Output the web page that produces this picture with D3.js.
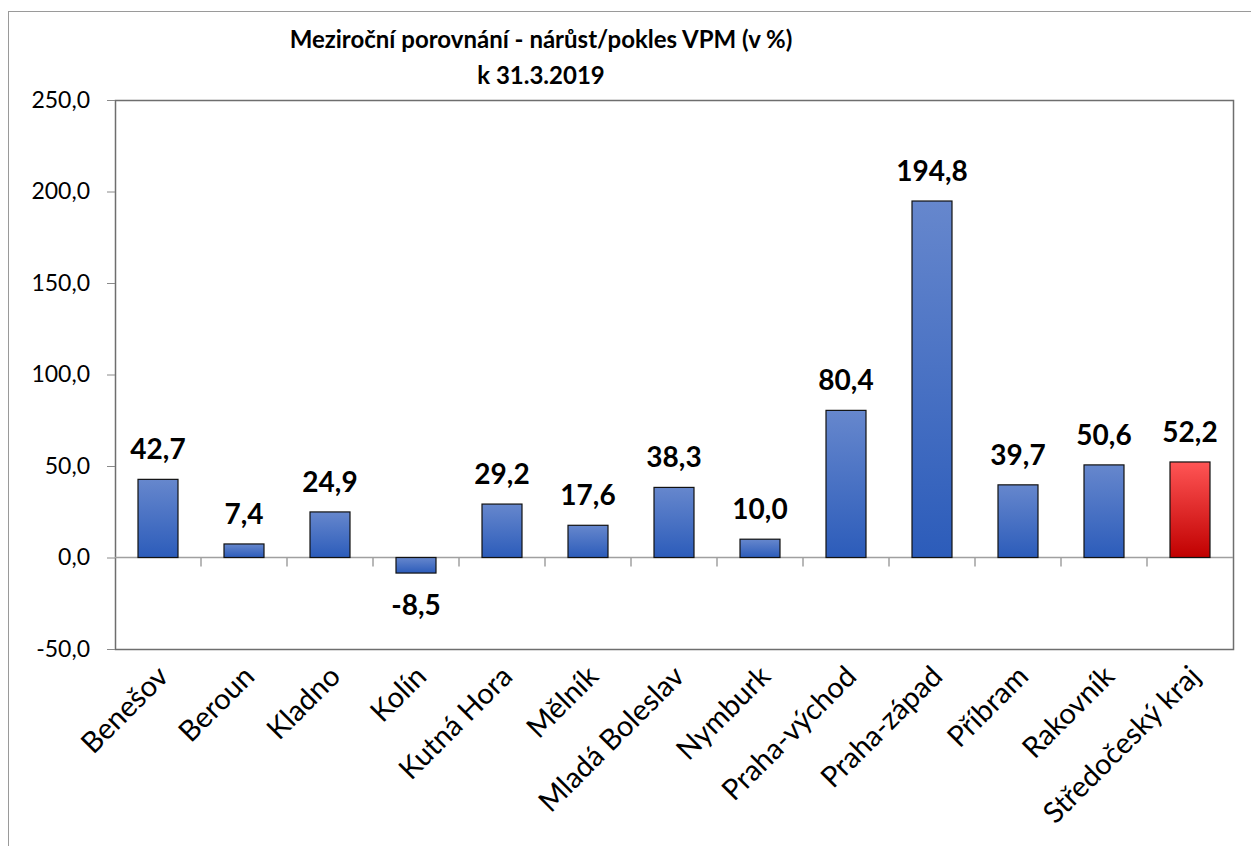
<!DOCTYPE html>
<html>
<head>
<meta charset="utf-8">
<script src="https://cdn.jsdelivr.net/npm/d3@7"></script>
<style>
  html, body { margin: 0; padding: 0; background: #fff; }
  svg { display: block; font-family: Lato, "Open Sans", sans-serif; }
</style>
</head>
<body>
<div id="chart"></div>
<script>
// data
const districts = ['Benešov', 'Beroun', 'Kladno', 'Kolín', 'Kutná Hora', 'Mělník',
  'Mladá Boleslav', 'Nymburk', 'Praha-východ', 'Praha-západ', 'Příbram',
  'Rakovník', 'Středočeský kraj'];
const changes = [42.7, 7.4, 24.9, -8.5, 29.2, 17.6, 38.3, 10.0, 80.4, 194.8, 39.7, 50.6, 52.2];
const yTicks = [-50, 0, 50, 100, 150, 200, 250];
const titleLines = ['Meziroční porovnání - nárůst/pokles VPM (v %)', 'k 31.3.2019'];
const highlight = 'Středočeský kraj';

const W = 1251, H = 846;
const plot = { left: 115, right: 1233, top: 100, bottom: 649 };

// czech number format: decimal comma, plain hyphen minus
const cz = d3.formatLocale({ decimal: ',', thousands: ' ', grouping: [3], currency: ['', ''], minus: '-' });
const fmt = cz.format('.1f');

const svg = d3.select('#chart').append('svg')
  .attr('width', W)
  .attr('height', H);

// gradients
const defs = svg.append('defs');
function gradient(id, top, bottom) {
  const g = defs.append('linearGradient')
    .attr('id', id)
    .attr('x1', 0).attr('y1', 0).attr('x2', 0).attr('y2', 1);
  g.append('stop').attr('offset', '0%').attr('stop-color', top);
  g.append('stop').attr('offset', '100%').attr('stop-color', bottom);
}
gradient('blueGrad', '#6687CD', '#2C5CBA');
gradient('redGrad', '#FF5555', '#C00000');

// outer chart frame
svg.append('rect')
  .attr('x', 8.5).attr('y', 11.5)
  .attr('width', 1260).attr('height', 860)
  .attr('fill', 'none')
  .attr('stroke', '#9a9a9a')
  .attr('stroke-width', 1);

// scales
const x = d3.scaleBand()
  .domain(districts)
  .range([plot.left, plot.right])
  .paddingInner(0.535)
  .paddingOuter(0.2675);

const slot = d3.scaleBand()
  .domain(districts)
  .range([plot.left, plot.right]);

const y = d3.scaleLinear()
  .domain([-50, 250])
  .range([plot.bottom, plot.top]);

// plot area border
svg.append('rect')
  .attr('x', plot.left + 0.5).attr('y', plot.top + 0.5)
  .attr('width', plot.right - plot.left).attr('height', plot.bottom - plot.top)
  .attr('fill', 'none')
  .attr('stroke', '#6e6e6e')
  .attr('stroke-width', 1.5);

// y axis
const yAxis = svg.append('g')
  .attr('transform', `translate(${plot.left},0)`)
  .call(d3.axisLeft(y).tickValues(yTicks).tickSize(8).tickPadding(17).tickFormat(fmt));
yAxis.select('.domain').remove();
yAxis.selectAll('line').attr('stroke', '#8a8a8a');
yAxis.selectAll('text')
  .attr('fill', '#000')
  .style('font-size', '23px')
  .style('font-family', 'Lato, sans-serif');

// zero line with category tick marks
const zeroY = y(0);
svg.append('line')
  .attr('x1', plot.left).attr('x2', plot.right)
  .attr('y1', zeroY).attr('y2', zeroY)
  .attr('stroke', '#a0a0a0')
  .attr('stroke-width', 1.5);

svg.append('g')
  .selectAll('line')
  .data(districts.slice(1))
  .join('line')
  .attr('x1', d => slot(d)).attr('x2', d => slot(d))
  .attr('y1', zeroY).attr('y2', zeroY + 9)
  .attr('stroke', '#a0a0a0')
  .attr('stroke-width', 1.5);

// bars
const data = districts.map((d, i) => ({ name: d, value: changes[i] }));

svg.append('g')
  .selectAll('rect')
  .data(data)
  .join('rect')
  .attr('x', d => x(d.name))
  .attr('width', x.bandwidth())
  .attr('y', d => y(Math.max(0, d.value)))
  .attr('height', d => Math.abs(y(d.value) - y(0)))
  .attr('fill', d => d.name === highlight ? 'url(#redGrad)' : 'url(#blueGrad)')
  .attr('stroke', '#111')
  .attr('stroke-width', 1.2);

// data labels
svg.append('g')
  .selectAll('text')
  .data(data)
  .join('text')
  .attr('x', d => x(d.name) + x.bandwidth() / 2)
  .attr('y', d => d.value >= 0 ? y(d.value) - 20 : y(d.value) + 42)
  .attr('text-anchor', 'middle')
  .style('font-size', '28px')
  .style('font-weight', 700)
  .attr('fill', '#000')
  .text(d => fmt(d.value));

// category labels
svg.append('g')
  .selectAll('text')
  .data(districts)
  .join('text')
  .attr('transform', d => `translate(${x(d) + x.bandwidth() / 2 + 5},${plot.bottom + 22}) rotate(-45)`)
  .attr('text-anchor', 'end')
  .attr('dy', '0.35em')
  .style('font-size', '29px')
  .attr('fill', '#000')
  .text(d => d);

// title
svg.append('g')
  .selectAll('text')
  .data(titleLines)
  .join('text')
  .attr('x', 541)
  .attr('y', (d, i) => 48 + i * 36)
  .attr('text-anchor', 'middle')
  .style('font-size', '24px')
  .style('font-weight', 700)
  .attr('fill', '#000')
  .text(d => d);
</script>
</body>
</html>
